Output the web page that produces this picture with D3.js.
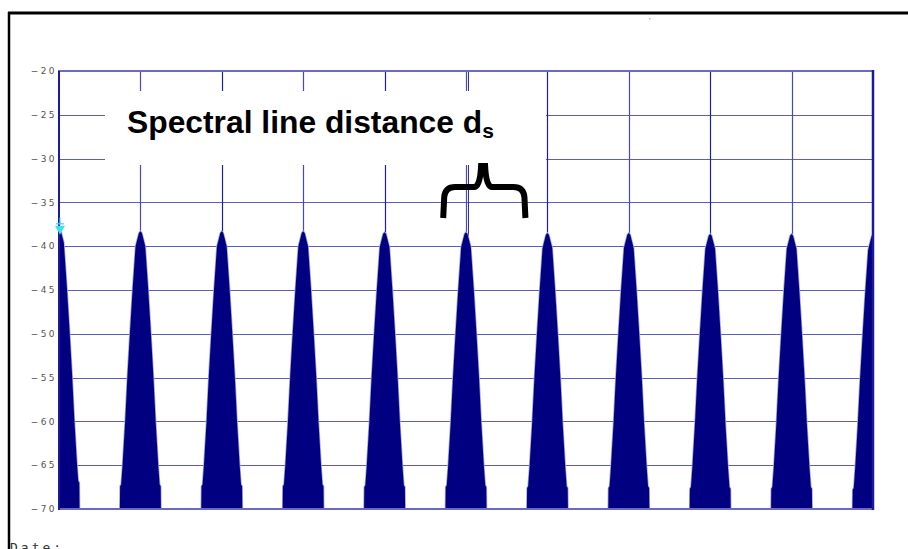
<!DOCTYPE html>
<html>
<head>
<meta charset="utf-8">
<script src="https://cdn.jsdelivr.net/npm/d3@7"></script>
<style>
  html, body { margin: 0; padding: 0; background: #ffffff; }
  svg { display: block; }
  .tick-label { font-family: 'DejaVu Sans', sans-serif; font-size: 9px; fill: #555555; letter-spacing: 2.4px; }
  .title { font-family: 'Liberation Sans', Arial, sans-serif; font-weight: bold; fill: #000; }
  .date { font-family: 'DejaVu Sans Mono', monospace; font-size: 13px; fill: #333; letter-spacing: 3px; }
</style>
</head>
<body>
<div id="chart"></div>
<script>
// ── data ────────────────────────────────────────────────
// spectral line positions (in grid divisions) and their peak levels (dB)
const lineFreqs  = [0, 1, 2, 3, 4, 5, 6, 7, 8, 9, 10];
const lineLevels = [-37.9, -38.3, -38.3, -38.3, -38.4, -38.4, -38.5, -38.5, -38.6, -38.6, -38.7];
// shape of one lobe: offset from line centre (divisions) vs level below peak (dB)
const lobeOffsets = [0, 0.018, 0.059, 0.096, 0.129, 0.160, 0.187, 0.219, 0.236, 0.249, 0.252];
const lobeDrops   = [0, -0.2, -1.7, -6.7, -11.7, -16.7, -21.7, -26.7, -28.9, -29.1, -40];
const yTicks = [-20, -25, -30, -35, -40, -45, -50, -55, -60, -65, -70];

// ── layout ──────────────────────────────────────────────
const W = 908, H = 549;
const plot = { left: 59, top: 71, right: 873, bottom: 509 };

const svg = d3.select("#chart").append("svg")
  .attr("width", W).attr("height", H);

const x = d3.scaleLinear().domain([0, 10]).range([plot.left, plot.right]);
const y = d3.scaleLinear().domain([-70, -20]).range([plot.bottom, plot.top]).clamp(true);

// outer black frame
svg.append("line").attr("x1", 8).attr("x2", W).attr("y1", 13).attr("y2", 13)
  .attr("stroke", "#000").attr("stroke-width", 3);
svg.append("line").attr("x1", 9).attr("x2", 9).attr("y1", 12).attr("y2", H)
  .attr("stroke", "#000").attr("stroke-width", 2.5);

// tiny speck
svg.append("rect").attr("x", 649).attr("y", 18).attr("width", 1.5).attr("height", 1.5).attr("fill", "#bbb");

// ── grid ────────────────────────────────────────────────
const grid = svg.append("g");
grid.selectAll(".hg").data(yTicks.slice(1, -1)).enter().append("line")
  .attr("x1", plot.left).attr("x2", plot.right)
  .attr("y1", d => Math.round(y(d)) + 0.5).attr("y2", d => Math.round(y(d)) + 0.5)
  .attr("stroke", "#5d5dc0").attr("stroke-width", 1);
grid.selectAll(".vg").data(d3.range(1, 10)).enter().append("line")
  .attr("x1", d => Math.round(x(d)) + 0.5).attr("x2", d => Math.round(x(d)) + 0.5)
  .attr("y1", plot.top).attr("y2", plot.bottom)
  .attr("stroke", d => d % 2 === 0 ? "#1e1ea6" : "#4848b8").attr("stroke-width", 1.2);
// marker line next to the centre grid line
grid.append("line")
  .attr("x1", Math.round(x(5)) + 2.5).attr("x2", Math.round(x(5)) + 2.5)
  .attr("y1", plot.top).attr("y2", plot.bottom)
  .attr("stroke", "#3030b0").attr("stroke-width", 1);

// ── lobes ───────────────────────────────────────────────
svg.append("clipPath").attr("id", "clip").append("rect")
  .attr("x", plot.left).attr("y", plot.top)
  .attr("width", plot.right - plot.left).attr("height", plot.bottom - plot.top);

const lobePts = (f, lvl) => {
  const right = lobeOffsets.map((o, i) => [f + o, lvl + lobeDrops[i]]);
  const left = right.slice(1).map(([fx, v]) => [2 * f - fx, v]).reverse();
  return left.concat(right);
};

const area = d3.area()
  .x(d => x(d[0]))
  .y0(y(-70))
  .y1(d => y(d[1]));

const lobes = svg.append("g").attr("clip-path", "url(#clip)");
lobes.selectAll(".halo").data(lineFreqs).enter().append("path")
  .attr("d", (f, i) => area(lobePts(f, lineLevels[i])))
  .attr("fill", "#000080").attr("stroke", "#a4a4e0").attr("stroke-width", 1.6);
lobes.selectAll(".lobe").data(lineFreqs).enter().append("path")
  .attr("d", (f, i) => area(lobePts(f, lineLevels[i])))
  .attr("fill", "#000080");

// ── plot frame ──────────────────────────────────────────
svg.append("rect")
  .attr("x", plot.left).attr("y", plot.top)
  .attr("width", plot.right - plot.left).attr("height", plot.bottom - plot.top)
  .attr("fill", "none").attr("stroke", "#6a6ac4").attr("stroke-width", 2);
svg.append("line").attr("x1", plot.left).attr("x2", plot.left)
  .attr("y1", plot.top).attr("y2", plot.bottom + 1)
  .attr("stroke", "#1a1a9a").attr("stroke-width", 2);
svg.append("line").attr("x1", plot.right).attr("x2", plot.right)
  .attr("y1", plot.top - 1).attr("y2", plot.bottom + 1)
  .attr("stroke", "#1a1a9a").attr("stroke-width", 2.5);

// y labels
svg.selectAll(".tick-label").data(yTicks).enter().append("text")
  .attr("class", "tick-label")
  .attr("x", 57).attr("y", d => y(d))
  .attr("text-anchor", "end").attr("dy", "0.35em")
  .text(d => d3.format("d")(d));

// marker at the first line
const mx = x(lineFreqs[0]) + 1, my = y(lineLevels[0]);
svg.append("line").attr("x1", mx).attr("x2", mx).attr("y1", my - 10).attr("y2", my - 3)
  .attr("stroke", "#40d8e0").attr("stroke-width", 1.2);
svg.append("line").attr("x1", mx - 4).attr("x2", mx + 4).attr("y1", my - 4).attr("y2", my - 4)
  .attr("stroke", "#40d8e0").attr("stroke-width", 1.2);
svg.append("path")
  .attr("d", `M${mx - 5},${my - 2} L${mx + 5},${my - 2} L${mx},${my + 7} Z`)
  .attr("fill", "#40e0e8");

// ── annotation ──────────────────────────────────────────
svg.append("rect").attr("x", 105).attr("y", 91).attr("width", 441).attr("height", 74)
  .attr("fill", "#ffffff");
const title = svg.append("text").attr("class", "title")
  .attr("x", 127).attr("y", 133).attr("font-size", 31.8);
title.append("tspan").text("Spectral line distance d");
title.append("tspan").attr("font-size", 21).attr("dy", 5).text("s");

// brace spanning one line distance
const bL = x(4.72), bR = x(5.73), bM = x(5.21);
const bTop = 166, bBar = 187, bEnd = 218;
svg.append("path")
  .attr("d", `M${bL},${bEnd} L${bL + 1},${bBar + 10} Q${bL + 2},${bBar} ${bL + 12},${bBar}
              L${bM - 9},${bBar} Q${bM - 3},${bBar} ${bM - 2},${bTop}
              L${bM + 2},${bTop} Q${bM + 3},${bBar} ${bM + 9},${bBar} L${bR - 12},${bBar}
              Q${bR - 2},${bBar} ${bR - 1},${bBar + 10} L${bR},${bEnd}`)
  .attr("fill", "none").attr("stroke", "#000").attr("stroke-width", 6);

// footer
svg.append("text").attr("class", "date").attr("x", 10).attr("y", 552).text("Date:");
</script>
</body>
</html>
